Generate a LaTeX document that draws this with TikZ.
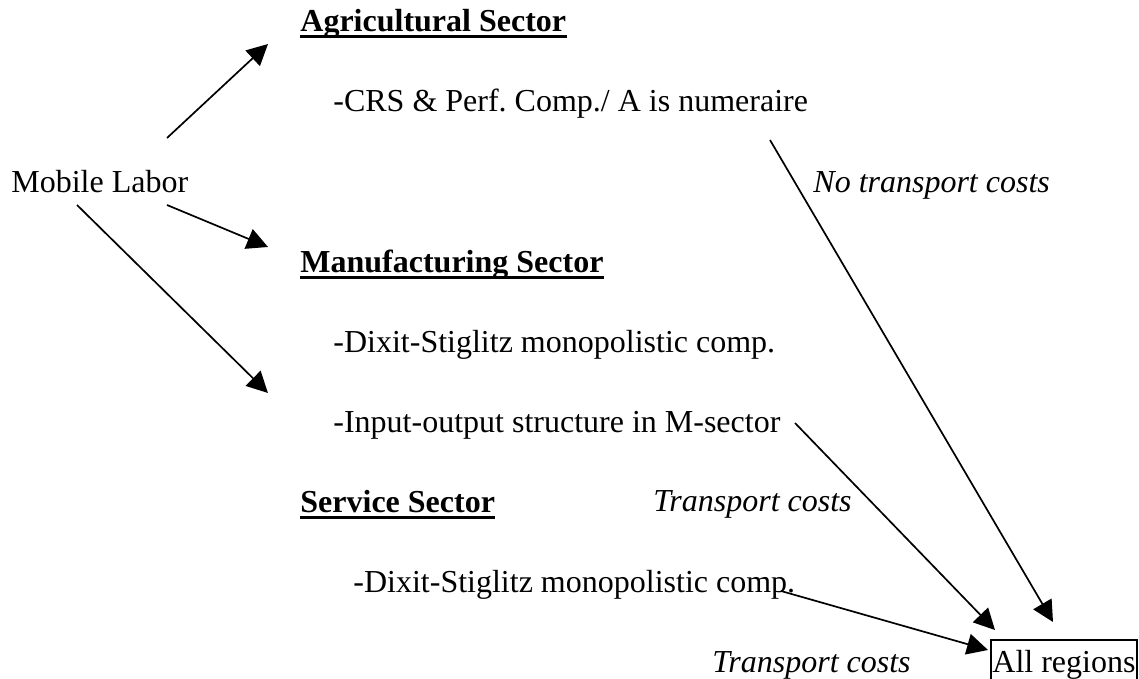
\documentclass[tikz,border=0pt]{standalone}
\usepackage{fontspec}
\setmainfont{Liberation Serif}
\usetikzlibrary{arrows.meta}
\frenchspacing
\tikzset{
  txt/.style={anchor=base west, inner sep=0pt, font=\fontsize{16}{19}\selectfont},
  head/.style={txt, font=\fontsize{16}{19}\selectfont\bfseries},
  itxt/.style={txt, font=\fontsize{16}{19}\selectfont\itshape},
  uline/.style={line width=1.5pt},
  arr/.style={line width=0.85pt, -{Triangle[length=10.5pt,width=10.5pt]}},
  boxline/.style={line width=0.85pt}
}
\begin{document}
\begin{tikzpicture}[x=0.5pt,y=-0.5pt]
\useasboundingbox (0,0) rectangle (1139,679);
% text nodes
\node[head] (agri) at (300,32) {Agricultural Sector};
\node[txt] (crs) at (333,112) {-CRS \& Perf. Comp./ A is numeraire};
\node[txt] (mob) at (11,193) {Mobile Labor};
\node[itxt] (notr) at (813,192) {No transport costs};
\node[head] (manu) at (300,272) {Manufacturing Sector};
\node[txt] (dix1) at (333,352) {-Dixit-Stiglitz monopolistic comp.};
\node[txt] (io) at (333,432) {-Input-output structure in M-sector};
\node[head] (serv) at (300,512) {Service Sector};
\node[itxt] (tr1) at (653,511) {Transport costs};
\node[txt] (dix2) at (353,592) {-Dixit-Stiglitz monopolistic comp.};
\node[itxt] (tr2) at (712,672) {Transport costs};
\node[txt] (all) at (992,672) {All regions};
% underlines
\draw[uline] ([yshift=-2.4pt]agri.base west) -- ([yshift=-2.4pt]agri.base east);
\draw[uline] ([yshift=-2.7pt]manu.base west) -- ([yshift=-2.7pt]manu.base east);
\draw[uline] ([yshift=-2.7pt]serv.base west) -- ([yshift=-2.7pt]serv.base east);
% box around All regions
\draw[boxline] ([xshift=-0.5pt,yshift=16pt]all.base west) rectangle ([xshift=0.5pt,yshift=-4.5pt]all.base east);
% connector end points
\coordinate (s1) at (167,138); \coordinate (t1) at (268,44);
\coordinate (s2) at (167,205); \coordinate (t2) at (268,247);
\coordinate (s3) at (77,205);  \coordinate (t3) at (268,393);
\coordinate (s4) at (770,140); \coordinate (t4) at (1053,622);
\coordinate (s5) at (795,423); \coordinate (t5) at (995,630);
\coordinate (s6) at (781,591); \coordinate (t6) at (988,650);
% connectors
\draw[arr] (s1) -- (t1);
\draw[arr] (s2) -- (t2);
\draw[arr] (s3) -- (t3);
\draw[arr] (s4) -- (t4);
\draw[arr] (s5) -- (t5);
\draw[arr] (s6) -- (t6);
\end{tikzpicture}
\end{document}
